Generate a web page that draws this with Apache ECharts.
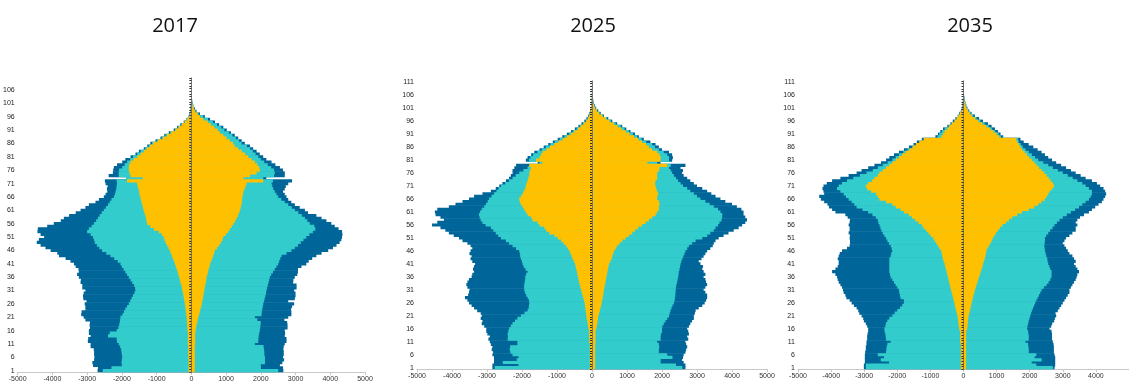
<!DOCTYPE html>
<html>
<head>
<meta charset="utf-8">
<script src="https://cdn.jsdelivr.net/npm/echarts@6/dist/echarts.min.js"></script>
<style>
  html, body { margin: 0; padding: 0; background: #fff; }
  #chart { width: 1129px; height: 383px; }
</style>
</head>
<body>
<div id="chart"></div>
<script>
// Population by single year of age (1 = youngest row), three nested groups per sex.
// Values are head counts; males are drawn to the left of zero.
const years = ['2017', '2025', '2035'];
const xTicks = [-5000, -4000, -3000, -2000, -1000, 0, 1000, 2000, 3000, 4000, 5000];

// ---- 2017 ----
const male2017Outer = [2700,2690,2830,2850,2800,2790,2800,2800,2810,2900,2900,2980,2970,2900,2950,2950,2920,2930,2920,3050,3100,3170,3160,3050,3050,3070,3020,3110,3120,3100,3050,3140,3140,3190,3180,3240,3290,3240,3250,3330,3380,3480,3620,3810,3860,4050,4200,4340,4450,4390,4240,4340,4430,4420,4150,3960,3760,3670,3520,3330,3190,3050,2950,2760,2660,2520,2470,2420,2430,2410,2470,2490,1870,2380,2260,2250,2230,2140,1990,1900,1750,1610,1510,1370,1270,1180,1030,890,780,650,510,410,320,220,140,80,60,40,30,20,15,10,6,4,3,2,2,1,1,1];
const male2017Middle = [2550,2300,2000,2010,2000,1990,2000,2010,2020,2050,2090,2140,2150,2400,2350,2150,2100,2080,2060,2050,2040,1980,1940,1900,1850,1800,1760,1720,1680,1640,1610,1620,1650,1700,1750,1800,1850,1900,1950,2000,2040,2120,2220,2330,2450,2570,2650,2720,2780,2800,2830,2900,3000,2950,2870,2800,2740,2690,2640,2580,2520,2460,2400,2350,2300,2230,2200,2180,2160,2150,2140,2150,1860,2090,2090,2080,1990,1920,1850,1760,1680,1560,1460,1330,1230,1130,990,850,740,610,470,380,290,200,120,65,50,35,25,18,12,8,5,3,2,2,1,1,1,1];
const male2017Inner = [80,80,80,80,80,90,90,90,90,90,100,100,100,100,100,110,115,120,125,130,135,145,155,165,175,185,200,210,225,240,255,270,290,310,330,350,370,395,420,445,470,500,530,560,590,620,660,700,740,770,800,850,940,1080,1180,1270,1290,1300,1320,1350,1370,1390,1410,1430,1450,1470,1490,1500,1520,1540,1560,1850,1400,1750,1780,1800,1800,1790,1750,1660,1560,1460,1370,1280,1190,1100,960,820,700,580,460,360,270,190,120,60,40,28,20,14,10,7,5,3,2,2,1,1,1,1];
const female2017Outer = [2650,2640,2550,2620,2670,2640,2660,2660,2650,2660,2690,2740,2740,2690,2700,2690,2770,2770,2760,2680,2790,2880,2880,2870,2900,2960,2790,2980,3000,3000,2960,3030,3030,2930,2940,2980,3050,3070,3070,3170,3310,3380,3480,3600,3750,3940,4080,4180,4270,4320,4340,4350,4340,4240,4130,4030,3890,3750,3600,3360,3270,3120,2980,2880,2790,2740,2690,2640,2690,2720,2790,2900,2160,2690,2690,2640,2550,2420,2310,2160,2070,1970,1880,1780,1690,1540,1450,1350,1250,1140,1020,920,800,680,540,390,250,150,100,60,40,25,15,10,6,4,3,2,1,1];
const female2017Middle = [2500,2000,2000,2120,2120,2120,2100,2100,2090,2080,1830,1925,1930,1940,1950,1970,1980,1990,2000,1900,1830,2020,2030,2040,2055,2070,2090,2110,2130,2150,2160,2180,2200,2220,2240,2260,2300,2350,2400,2450,2500,2530,2560,2600,2740,2880,2980,3070,3150,3230,3310,3400,3500,3570,3540,3410,3340,3270,3180,3080,2980,2890,2790,2690,2590,2500,2450,2400,2360,2330,2310,2350,2070,2380,2400,2380,2300,2200,2100,2000,1930,1850,1770,1690,1600,1450,1370,1280,1180,1080,950,860,740,620,480,340,210,120,80,45,30,18,10,6,4,3,2,1,1,1];
const female2017Inner = [100,100,100,100,100,100,100,100,100,100,110,110,110,110,110,120,135,150,165,185,200,220,240,260,280,300,315,330,345,360,370,385,400,415,430,440,460,480,500,520,540,570,600,630,655,680,740,800,850,890,920,990,1060,1110,1160,1210,1260,1300,1340,1370,1400,1420,1440,1450,1460,1470,1480,1500,1530,1560,1590,2070,1500,1690,1880,1970,1950,1900,1830,1730,1640,1550,1450,1350,1250,1200,1110,1015,920,820,760,660,565,470,345,250,180,110,70,40,25,15,9,5,3,2,1,1,1,1];

// ---- 2025 ----
const male2025Outer = [2845,2845,2800,2800,2800,2845,2825,2865,2845,2890,2920,2960,2920,2990,3020,3020,3080,3150,3130,3180,3150,3180,3280,3370,3440,3515,3560,3630,3540,3515,3500,3560,3590,3560,3515,3440,3420,3370,3400,3370,3340,3420,3470,3440,3500,3470,3420,3470,3560,3700,3800,3950,4090,4190,4330,4570,4420,4230,4330,4470,4490,4420,4090,3900,3700,3515,3370,3130,2890,2750,2650,2560,2460,2370,2320,2270,2270,2220,2170,1550,1890,1840,1740,1650,1500,1380,1250,1120,980,850,720,600,490,390,300,220,160,110,75,50,33,22,15,10,7,5,4,3,2,2,1];
const male2025Middle = [2780,2100,2550,2150,2100,2270,2330,2350,2340,2130,2130,2410,2400,2410,2390,2370,2320,2270,2200,2130,2030,1930,1840,1810,1800,1790,1800,1840,1880,1910,1935,1940,1935,1920,1910,1905,1880,1840,1900,1950,1980,2000,2030,2050,2060,2080,2170,2270,2370,2460,2600,2680,2750,2820,2890,3040,3130,3180,3210,3230,3200,3150,3080,3030,2980,2940,2870,2800,2730,2670,2600,2480,2370,2270,2180,2080,1960,1840,1790,1500,1800,1760,1680,1560,1440,1320,1190,1060,920,790,660,550,440,350,260,180,130,90,60,40,27,18,12,8,5,4,3,2,2,1,1];
const male2025Inner = [60,60,60,60,60,60,60,60,60,60,80,80,80,80,80,100,110,120,135,150,160,170,180,190,200,210,230,250,270,290,310,330,350,370,385,400,415,430,450,465,480,515,550,580,610,640,690,740,810,880,980,1070,1220,1310,1360,1500,1550,1700,1740,1840,1890,1935,1980,2030,2060,2080,2030,1980,1950,1905,1890,1870,1840,1820,1790,1790,1770,1740,1790,1420,1600,1500,1460,1410,1300,1200,1080,960,840,720,600,500,400,320,240,165,115,80,55,36,24,16,10,7,5,3,2,2,1,1,1];
const female2025Outer = [2670,2670,2620,2575,2600,2620,2670,2690,2720,2690,2670,2750,2720,2770,2750,2720,2770,2810,2860,2910,2910,2940,2960,3050,3150,3220,3260,3290,3290,3240,3190,3240,3290,3260,3240,3190,3240,3190,3150,3170,3100,3050,3130,3190,3240,3290,3380,3450,3480,3530,3620,3760,3900,4050,4190,4290,4380,4430,4380,4330,4330,4270,4140,4000,3810,3670,3530,3410,3290,3150,3000,2910,2810,2720,2620,2575,2600,2530,2670,1960,2290,2310,2290,2200,2000,1910,1815,1670,1480,1340,1230,1100,980,865,720,580,465,340,250,180,120,80,55,35,25,15,10,8,5,3,2];
const female2025Middle = [2580,2400,1960,1960,2300,2150,1910,1910,1920,1910,1860,1960,1960,1970,2000,2000,2010,2050,2100,2150,2200,2220,2240,2270,2300,2340,2360,2370,2380,2385,2390,2400,2410,2430,2445,2460,2470,2480,2500,2515,2530,2550,2580,2610,2640,2670,2720,2770,2860,2960,3150,3290,3380,3480,3530,3600,3640,3700,3720,3720,3670,3600,3480,3360,3240,3100,3000,2910,2810,2720,2600,2530,2460,2400,2340,2290,2250,2200,2250,1860,2200,2200,2150,2050,1910,1800,1720,1550,1420,1290,1170,1055,930,820,675,540,430,315,220,150,100,65,45,28,18,12,8,5,3,2,1];
const female2025Inner = [90,90,90,90,90,90,90,90,90,90,100,100,100,100,100,120,135,150,160,170,180,200,220,240,260,275,290,305,320,330,340,355,370,385,400,410,425,440,455,470,485,520,560,580,600,630,675,720,790,865,960,1055,1150,1230,1320,1435,1530,1625,1720,1815,1860,1910,1910,1930,1910,1860,1860,1890,1860,1835,1815,1800,1815,1860,1860,1860,1910,1930,2150,1580,1960,1960,1930,1860,1720,1625,1550,1435,1320,1200,1075,960,845,730,620,500,390,295,200,140,85,55,35,22,14,9,6,4,2,1,1];

// ---- 2035 ----
const male2035Outer = [3010,3010,2980,2980,2980,2980,2970,2950,2950,2930,2930,2910,2910,2900,2880,2880,2910,2950,3010,3030,3080,3150,3180,3230,3310,3380,3440,3540,3570,3620,3640,3670,3720,3770,3800,3820,3870,3970,3870,3800,3770,3770,3800,3770,3740,3670,3520,3440,3430,3430,3440,3430,3470,3440,3440,3470,3440,3430,3500,3570,3870,3970,4065,4110,4210,4310,4360,4210,4230,4260,4230,4130,3970,3720,3470,3230,3080,2880,2690,2490,2340,2240,2100,1950,1800,1650,1510,1410,1260,850,770,700,620,490,395,325,245,175,130,80,55,40,30,20,15,10,8,5,4,3,2];
const male2035Middle = [2950,2950,2250,2500,2400,2590,2340,2330,2320,2300,2200,2340,2350,2360,2380,2390,2360,2340,2300,2240,2150,2080,2000,1920,1850,1800,1800,1900,1920,1940,1950,2000,2050,2100,2150,2200,2220,2240,2240,2240,2240,2240,2240,2200,2180,2150,2170,2200,2250,2300,2340,2390,2440,2480,2510,2540,2570,2590,2650,2750,2880,3050,3230,3300,3380,3470,3550,3620,3720,3820,3770,3670,3520,3330,3130,2930,2740,2590,2440,2290,2150,2050,1950,1820,1690,1550,1430,1310,1200,780,730,650,570,450,360,275,210,160,110,60,40,28,20,14,10,7,5,3,2,2,1];
const male2035Inner = [80,80,80,80,80,80,80,80,80,80,100,100,100,100,100,130,140,150,160,170,180,200,220,240,260,275,295,315,335,355,375,395,415,435,450,470,490,510,530,550,570,595,620,640,655,670,720,770,820,870,915,990,1060,1130,1210,1260,1360,1460,1555,1650,1800,1900,2050,2150,2340,2540,2590,2640,2790,2910,2950,2880,2760,2690,2590,2540,2440,2340,2240,2150,2050,1950,1850,1750,1630,1535,1440,1340,1200,670,620,570,490,425,355,270,205,155,105,60,38,26,18,12,8,5,3,2,1,1,1];
const female2035Outer = [2750,2770,2770,2770,2770,2750,2730,2730,2730,2720,2700,2675,2675,2675,2660,2600,2650,2680,2740,2760,2800,2780,2850,2900,2950,3000,3050,3100,3150,3200,3200,3245,3290,3340,3390,3420,3440,3490,3440,3390,3340,3390,3340,3290,3200,3150,3100,3050,3000,3050,3100,3200,3290,3390,3390,3440,3390,3440,3520,3640,3790,3880,3980,4080,4180,4230,4280,4310,4280,4230,4130,4030,3880,3690,3540,3390,3245,3100,2950,2800,2675,2560,2460,2360,2240,2110,1970,1820,1720,1200,1120,1040,950,850,740,590,470,345,245,175,120,85,60,40,28,18,12,8,5,3,2];
const female2035Middle = [2700,2200,2060,2360,2150,2200,1970,1970,1960,1950,1870,1970,1970,1960,1950,1920,1930,1950,1970,1990,2015,2040,2065,2100,2130,2165,2200,2240,2280,2320,2360,2430,2510,2570,2620,2655,2660,2660,2620,2590,2560,2540,2530,2500,2480,2460,2450,2440,2450,2460,2460,2500,2560,2620,2690,2750,2820,2900,3000,3120,3245,3370,3490,3590,3690,3790,3840,3880,3880,3790,3690,3590,3440,3300,3150,3000,2850,2700,2560,2410,2260,2160,2065,1970,1870,1790,1730,1670,1650,1130,1060,960,865,760,640,510,395,295,215,150,100,70,50,32,22,14,9,6,4,2,1];
const female2035Inner = [80,80,80,80,80,80,80,80,80,80,80,80,80,80,80,110,118,126,134,142,150,170,190,210,228,245,265,285,305,325,345,370,395,420,445,470,495,520,545,570,590,615,640,660,675,690,715,765,810,850,885,935,985,1040,1100,1180,1280,1375,1475,1620,1770,1970,2140,2260,2360,2460,2510,2560,2605,2675,2735,2700,2635,2575,2510,2440,2360,2280,2210,2145,2065,1985,1915,1850,1770,1720,1670,1620,1590,1080,1000,900,805,690,570,450,350,255,190,140,90,60,40,25,15,10,6,4,2,1,1];

const maleData = [
  [male2017Outer, male2017Middle, male2017Inner],
  [male2025Outer, male2025Middle, male2025Inner],
  [male2035Outer, male2035Middle, male2035Inner]
];
const femaleData = [
  [female2017Outer, female2017Middle, female2017Inner],
  [female2025Outer, female2025Middle, female2025Inner],
  [female2035Outer, female2035Middle, female2035Inner]
];

// ---- layout & style ----
const layerColors = ['#006699', '#33cccc', '#ffc000'];
const grids = [
  { left: 17,  top: 78, width: 348, height: 296 },
  { left: 417, top: 81, width: 350, height: 288 },
  { left: 798, top: 81, width: 336, height: 288 }
];
const titleCenters = [170, 588, 965];
const axisFont = 'Liberation Sans, Arial, sans-serif';

const chart = echarts.init(document.getElementById('chart'), null, { renderer: 'canvas' });

const option = {
  animation: false,
  title: years.map((y, i) => ({
    text: y,
    left: titleCenters[i],
    top: 11,
    textAlign: 'center',
    textStyle: { fontFamily: 'Open Sans, Noto Sans, sans-serif', fontSize: 20, fontWeight: 'normal', color: '#111' }
  })),
  grid: grids,
  xAxis: grids.map((g, i) => ({
    type: 'value',
    gridIndex: i,
    min: xTicks[0],
    max: xTicks[xTicks.length - 1],
    interval: 1000,
    splitLine: { show: false },
    axisLine: { show: true, onZero: false, lineStyle: { color: '#c8c8c8', width: 1 } },
    axisTick: { show: true, length: 3, lineStyle: { color: '#c8c8c8' } },
    axisLabel: {
      fontFamily: axisFont, fontSize: 7, color: '#333', margin: 4,
      showMaxLabel: i !== 2,
      formatter: v => String(v)
    }
  })),
  yAxis: grids.map((g, i) => ({
    type: 'category',
    gridIndex: i,
    z: 5,
    data: maleData[i][0].map((_, k) => String(k + 1)),
    axisLine: { show: true, lineStyle: { color: '#777', width: 1 } },
    axisTick: { show: true, interval: 0, length: 2, lineStyle: { color: '#333' } },
    axisLabel: { interval: 4, fontFamily: axisFont, fontSize: 7, color: '#222', margin: 3 },
    splitLine: { show: false }
  })),
  series: []
};

// One horizontal bar per age, drawn from zero to the value through the axes' own scales.
// Each rect is stretched by a fraction of a pixel so that neighbouring ages join without seams.
function barSeries(name, i, values, layer) {
  return {
    name: name,
    type: 'custom',
    xAxisIndex: i, yAxisIndex: i,
    silent: true,
    encode: { x: 0, y: 1 },
    data: values.map((v, k) => [v, k]),
    renderItem: function (params, api) {
      const v = api.value(0);
      const k = api.value(1);
      const p0 = api.coord([0, k]);
      const p1 = api.coord([v, k]);
      const h = api.size([0, 1])[1];
      return {
        type: 'rect',
        shape: {
          x: Math.min(p0[0], p1[0]),
          y: p0[1] - h / 2 - 0.3,
          width: Math.abs(p1[0] - p0[0]),
          height: h + 0.6
        },
        style: { fill: layerColors[layer] }
      };
    }
  };
}

years.forEach((y, i) => {
  for (let layer = 0; layer < 3; layer++) {
    option.series.push(barSeries('male ' + y + ' ' + layer, i, maleData[i][layer].map(v => -v), layer));
    option.series.push(barSeries('female ' + y + ' ' + layer, i, femaleData[i][layer], layer));
  }
});

chart.setOption(option);
</script>
</body>
</html>
